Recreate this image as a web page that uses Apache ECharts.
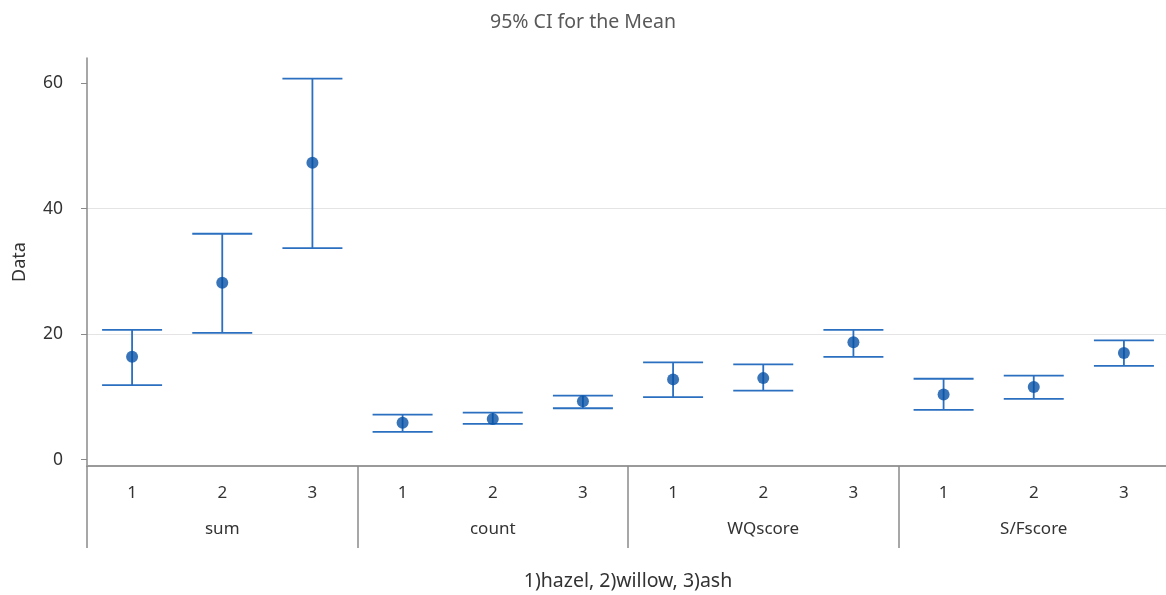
<!DOCTYPE html>
<html>
<head>
<meta charset="utf-8">
<script src="https://cdn.jsdelivr.net/npm/echarts@6/dist/echarts.min.js"></script>
<style>
  html, body { margin: 0; padding: 0; background: #fff; }
  #main { width: 1166px; height: 595px; }
</style>
</head>
<body>
<div id="main"></div>
<script>
const categories = ['1', '2', '3', '1', '2', '3', '1', '2', '3', '1', '2', '3'];
const groups = ['sum', 'count', 'WQscore', 'S/Fscore'];
const means = [16.4, 28.2, 47.3, 5.9, 6.5, 9.3, 12.8, 13.0, 18.7, 10.4, 11.6, 17.0];
const lower = [11.9, 20.2, 33.7, 4.45, 5.7, 8.2, 9.97, 11.0, 16.4, 7.95, 9.7, 14.96];
const upper = [20.7, 36.0, 60.7, 7.2, 7.5, 10.2, 15.5, 15.2, 20.7, 12.9, 13.4, 19.0];
const yTicks = [0, 20, 40, 60];

const FONT = 'Noto Sans';
const chart = echarts.init(document.getElementById('main'), null, { renderer: 'canvas' });

const barData = categories.map((c, i) => [i, lower[i], upper[i]]);
const meanData = categories.map((c, i) => [i, means[i]]);

chart.setOption({
  animation: false,
  title: {
    text: '95% CI for the Mean',
    left: 'center',
    top: 7,
    textStyle: { fontFamily: FONT, fontSize: 19.5, fontWeight: 'normal', color: '#595959' }
  },
  grid: { left: 87, top: 58, right: -3, bottom: 129, outerBoundsMode: 'none', containLabel: false },
  xAxis: [
    {
      type: 'category',
      data: categories,
      position: 'bottom',
      axisLine: { show: true, onZero: false, lineStyle: { color: '#9a9a9a', width: 2 } },
      axisTick: { show: false },
      axisLabel: { fontFamily: FONT, fontSize: 17, color: '#333', margin: 19 },
      splitLine: { show: false }
    },
    {
      type: 'category',
      data: groups,
      position: 'bottom',
      axisLine: { show: false, onZero: false },
      axisTick: { show: true, length: 82, interval: 0, lineStyle: { color: '#8a8a8a', width: 1.5 } },
      axisLabel: { fontFamily: FONT, fontSize: 17, color: '#333', margin: 55 },
      name: '1)hazel, 2)willow, 3)ash',
      nameLocation: 'middle',
      nameGap: 105,
      nameTextStyle: { fontFamily: FONT, fontSize: 19.5, color: '#333' }
    }
  ],
  yAxis: {
    type: 'value',
    min: -1,
    max: 64,
    name: 'Data',
    nameLocation: 'middle',
    nameGap: 58,
    nameTextStyle: { fontFamily: FONT, fontSize: 18, color: '#333' },
    axisLine: { show: true, lineStyle: { color: '#8a8a8a', width: 1.5 } },
    axisTick: { show: true, length: 6, customValues: yTicks, lineStyle: { color: '#8a8a8a' } },
    axisLabel: { fontFamily: FONT, fontSize: 17.5, color: '#333', margin: 24, customValues: yTicks },
    splitLine: { show: true, showMinLine: false, showMaxLine: false, lineStyle: { color: '#e4e4e4', width: 1 } }
  },
  series: [
    {
      type: 'custom',
      xAxisIndex: 0,
      data: barData,
      encode: { x: 0, y: [1, 2] },
      renderItem: function (params, api) {
        const x = api.value(0);
        const lo = api.coord([x, api.value(1)]);
        const hi = api.coord([x, api.value(2)]);
        const hw = 30;
        const style = { stroke: '#2a6fc0', lineWidth: 1.8 };
        return {
          type: 'group',
          children: [
            { type: 'line', shape: { x1: hi[0], y1: hi[1], x2: lo[0], y2: lo[1] }, style: style },
            { type: 'line', shape: { x1: hi[0] - hw, y1: hi[1], x2: hi[0] + hw, y2: hi[1] }, style: style },
            { type: 'line', shape: { x1: lo[0] - hw, y1: lo[1], x2: lo[0] + hw, y2: lo[1] }, style: style }
          ]
        };
      },
      z: 2
    },
    {
      type: 'scatter',
      xAxisIndex: 0,
      data: meanData,
      symbol: 'circle',
      symbolSize: 12,
      itemStyle: { color: '#0651a5' },
      z: 3
    }
  ]
});
</script>
</body>
</html>
